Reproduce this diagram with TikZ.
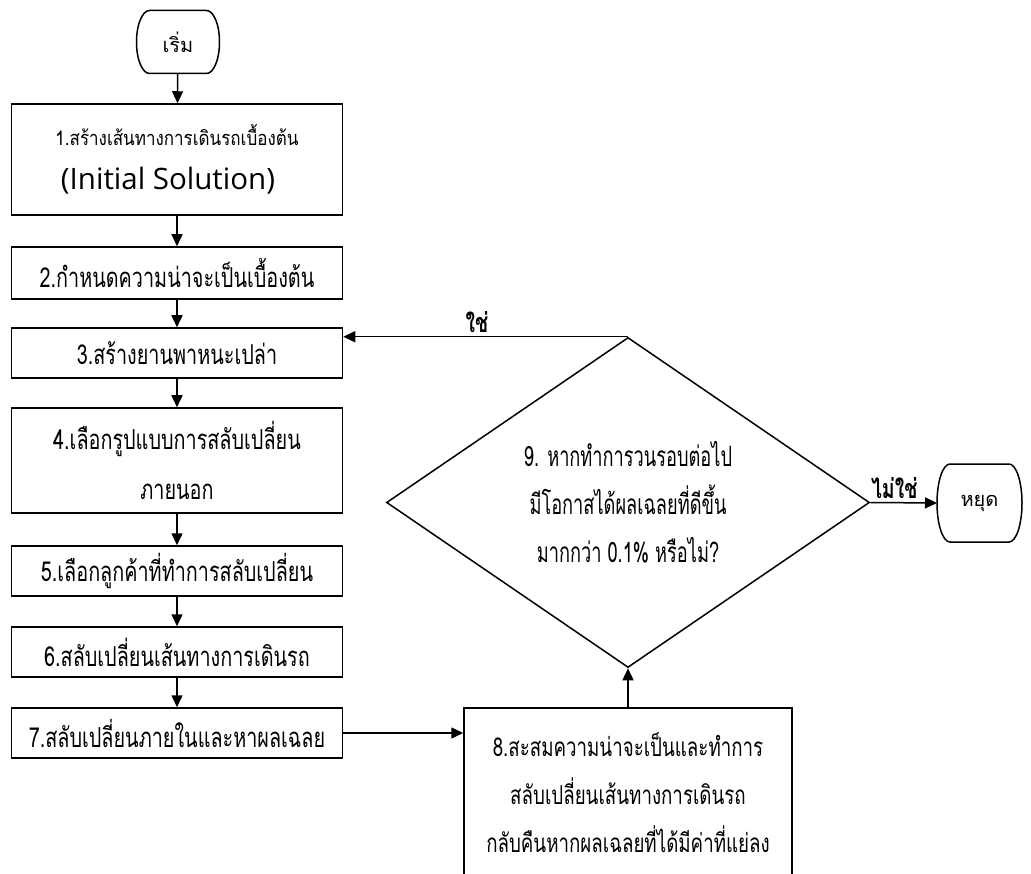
\documentclass[tikz,border=0pt]{standalone}
\usepackage{fontspec}
\setmainfont{Loma}[Script=Thai]
\newfontfamily\thaibox[Script=Thai,FakeStretch=0.85]{Loma}
\newfontfamily\thaicond[Script=Thai,FakeStretch=0.72]{Loma}
\newfontfamily\thainarrow[Script=Thai,FakeStretch=0.65]{Loma}
\newfontfamily\latinsans{Open Sans}
\usetikzlibrary{arrows.meta,shapes.geometric}

\tikzset{
  stepbox/.style={draw,rectangle,minimum width=331pt,minimum height=50pt,inner sep=2pt,
    align=center,font=\thaicond\fontsize{27.5}{48}\selectfont},
  terminal/.style={rectangle,inner sep=0pt,outer sep=0pt,font=\fontsize{20}{24}\selectfont},
  flow/.style={-{Triangle[length=12pt,width=11pt]}},
  answer/.style={font=\thaicond\bfseries\fontsize{27}{30}\selectfont,inner sep=3pt}
}
% outline of a start/stop node: straight top and bottom, bulging sides
\newcommand{\terminalframe}[2]{%
  \draw ([xshift=13pt]#1.north west) -- ([xshift=-13pt]#1.north east)
    arc[start angle=90,end angle=-90,x radius=13pt,y radius=#2]
    -- ([xshift=13pt]#1.south west)
    arc[start angle=270,end angle=90,x radius=13pt,y radius=#2] -- cycle;}

\begin{document}
\begin{tikzpicture}[x=1pt,y=-1pt,line width=1.5pt]
\useasboundingbox (0,0) rectangle (1031,874);
\clip (0,0) rectangle (1031,874);

% Start and the left column of steps
\node[terminal,minimum width=83pt,minimum height=63pt] (start) at (178,42) {เริ่ม};
\terminalframe{start}{31.5pt}
\node[stepbox,minimum height=111pt,font=\thaibox\fontsize{20}{44}\selectfont] (s1) at (177,159.5)
  {1.สร้างเส้นทางการเดินรถเบื้องต้น\\{\latinsans\fontsize{29.5}{44}\selectfont(Initial Solution)\hspace*{18pt}}};
\node[stepbox,minimum height=52pt] (s2) at (177,273) {2.กำหนดความน่าจะเป็นเบื้องต้น};
\node[stepbox] (s3) at (177,353) {3.สร้างยานพาหนะเปล่า};
\node[stepbox,minimum height=105pt,font=\thaicond\fontsize{27.5}{50}\selectfont] (s4) at (177,460.5)
  {4.เลือกรูปแบบการสลับเปลี่ยน\\ภายนอก};
\node[stepbox] (s5) at (177,571) {5.เลือกลูกค้าที่ทำการสลับเปลี่ยน};
\node[stepbox] (s6) at (177,652) {6.สลับเปลี่ยนเส้นทางการเดินรถ};
\node[stepbox] (s7) at (177,733) {7.สลับเปลี่ยนภายในและหาผลเฉลย};

% Step 8, the decision and stop
\node[stepbox,minimum width=328pt,minimum height=170pt,font=\thaicond\fontsize{26}{48}\selectfont]
  (s8) at (628,793)
  {8.สะสมความน่าจะเป็นและทำการ\\สลับเปลี่ยนเส้นทางการเดินรถ\\กลับคืนหากผลเฉลยที่ได้มีค่าที่แย่ลง};
\node[draw,diamond,minimum width=483pt,minimum height=313pt,inner sep=0pt,align=center,
  font=\thainarrow\fontsize{28}{48}\selectfont] (s9) at (628,502.5)
  {9. หากทำการวนรอบต่อไป\\มีโอกาสได้ผลเฉลยที่ดีขึ้น\\มากกว่า 0.1\% หรือไม่?};
\node[terminal,minimum width=85pt,minimum height=78pt] (stop) at (979.5,503) {หยุด};
\terminalframe{stop}{39pt}

% Connectors
\draw[flow] (start) -- (s1);
\draw[flow] (s1) -- (s2);
\draw[flow] (s2) -- (s3);
\draw[flow] (s3) -- (s4);
\draw[flow] (s4) -- (s5);
\draw[flow] (s5) -- (s6);
\draw[flow] (s6) -- (s7);
\draw[flow] (s7.east) -- (s7.east -| s8.west);
\draw[flow] (s8) -- (s9);
\draw[flow] (s9.north) -- node[answer,above,pos=0.53] {ใช่} (s9.north -| s3.east);
\draw[flow] (s9.east) -- node[answer,above,pos=0.36] {ไม่ใช่} (stop.west);

\end{tikzpicture}
\end{document}
